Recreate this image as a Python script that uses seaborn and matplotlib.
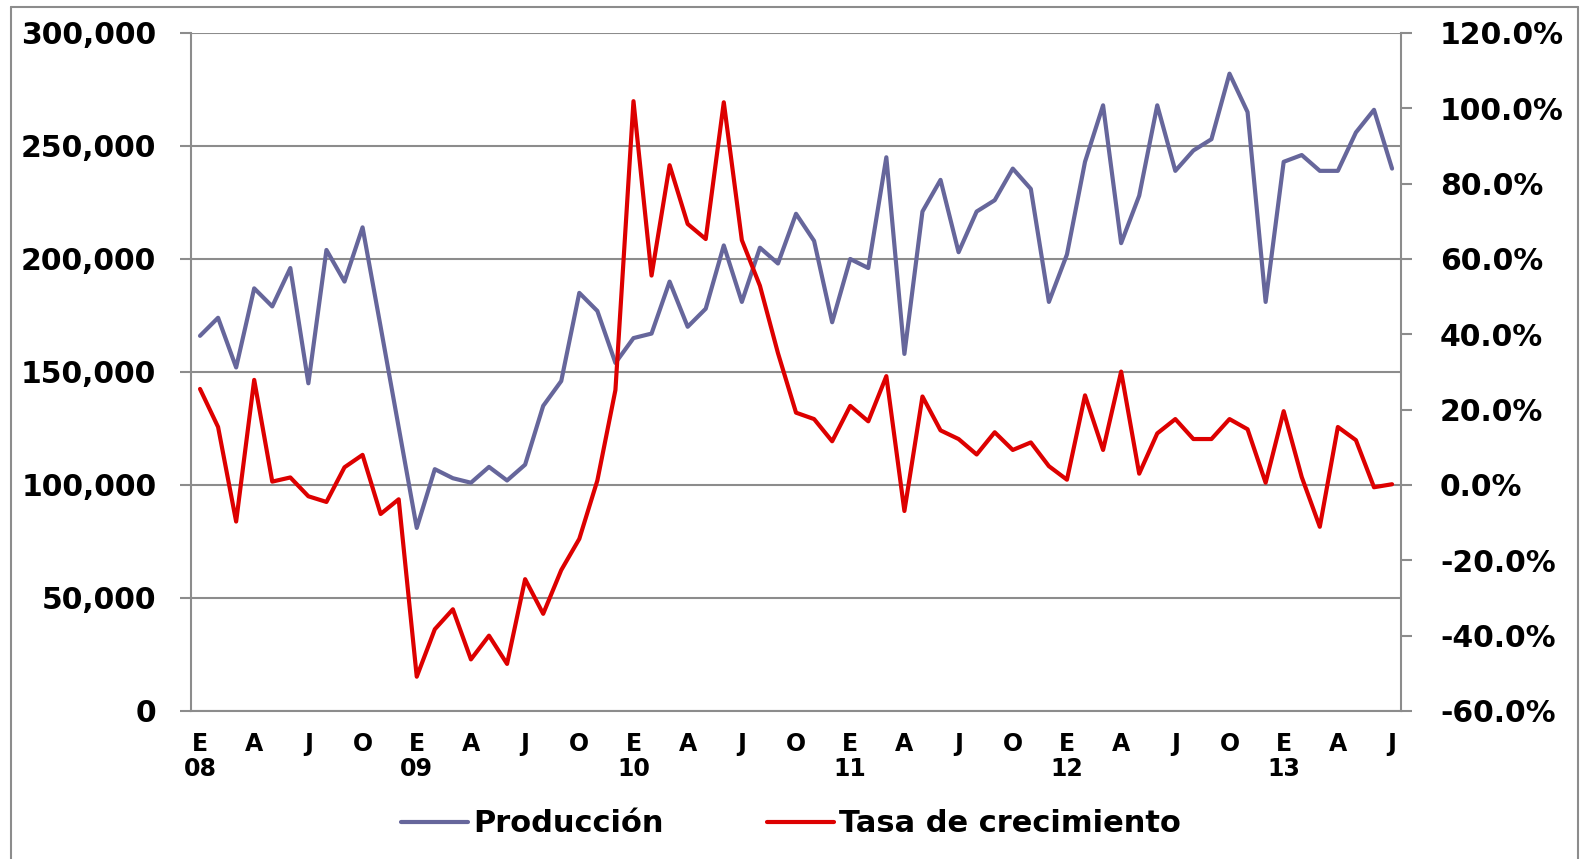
import numpy as np
import pandas as pd
import matplotlib
matplotlib.use("Agg")
import matplotlib.pyplot as plt
import seaborn as sns
from matplotlib.lines import Line2D
from matplotlib.ticker import FuncFormatter, FixedLocator

# ── Data (monthly, Jan 2008 – Jul 2013) ──
produccion = [166000, 174000, 152000, 187000, 179000, 196000, 145000, 204000, 190000, 214000,
              170000, 125500, 81000, 107000, 103000, 101000, 108000, 102000, 109000, 135000,
              146000, 185000, 177000, 154000, 165000, 167000, 190000, 170000, 178000, 206000,
              181000, 205000, 198000, 220000, 208000, 172000, 200000, 196000, 245000, 158000,
              221000, 235000, 203000, 221000, 226000, 240000, 231000, 181000, 202000, 243000,
              268000, 207000, 228000, 268000, 239000, 248000, 253000, 282000, 265000, 181000,
              243000, 246000, 239000, 239000, 256000, 266000, 240000]
tasa = [25.5, 15.4, -9.7, 27.9, 0.9, 2.0, -3.0, -4.5, 4.7, 8.0,
        -7.7, -3.8, -50.9, -38.3, -33.0, -46.3, -40.0, -47.5, -25.0, -34.2,
        -22.6, -14.3, 1.2, 25.2, 101.9, 55.6, 84.9, 69.3, 65.3, 101.6,
        65.0, 52.9, 35.0, 19.2, 17.5, 11.6, 21.0, 16.9, 28.9, -6.9,
        23.5, 14.5, 12.2, 8.1, 14.0, 9.3, 11.3, 5.0, 1.4, 23.8,
        9.3, 30.1, 3.0, 13.7, 17.5, 12.2, 12.2, 17.5, 14.8, 0.6,
        19.6, 2.1, -11.1, 15.4, 11.9, -0.6, 0.2]
month_letters = ["E", "A", "J", "O"]
years = ["08", "09", "10", "11", "12", "13"]

BLUE = "#66669b"
RED = "#dd0000"
GRAY = "#8c8c8c"

df = pd.DataFrame({"mes": np.arange(len(produccion)),
                   "Producción": produccion,
                   "Tasa de crecimiento": tasa})

sns.set_theme(style="white")
plt.rcParams["font.family"] = ["DejaVu Sans"]
plt.rcParams["font.weight"] = "bold"
plt.rcParams["text.color"] = "black"
plt.rcParams["xtick.labelcolor"] = "black"
plt.rcParams["ytick.labelcolor"] = "black"

fig, ax = plt.subplots(figsize=(15.81, 8.59), dpi=100)
fig.subplots_adjust(left=0.1208, right=0.8862, bottom=0.1723, top=0.9616)
ax2 = ax.twinx()

sns.lineplot(data=df, x="mes", y="Producción", ax=ax, color=BLUE, linewidth=3.0,
             label="Producción", legend=False)
sns.lineplot(data=df, x="mes", y="Tasa de crecimiento", ax=ax2, color=RED, linewidth=3.0,
             label="Tasa de crecimiento", legend=False)

# ── Axes ──
ax.set_xlim(-0.5, len(produccion) - 0.5)
ax.set_ylim(0, 300000)
ax2.set_ylim(-60, 120)
ax.set_yticks(np.arange(0, 300001, 50000))
ax2.set_yticks(np.arange(-60, 121, 20))
ax.yaxis.set_major_formatter(FuncFormatter(lambda v, p: f"{int(v):,}"))
ax2.yaxis.set_major_formatter(FuncFormatter(lambda v, p: f"{v:.1f}%"))
ax.set_xlabel("")
ax.set_ylabel("")
ax2.set_ylabel("")

# month labels every quarter, year under January
pos = np.arange(0, len(produccion), 3)
labels = []
for k, p in enumerate(pos):
    letter = month_letters[k % 4]
    if letter == "E":
        labels.append(f"E\n{years[p // 12]}")
    else:
        labels.append(letter)
ax.xaxis.set_major_locator(FixedLocator(pos))
ax.set_xticklabels(labels, fontsize=17, fontweight="bold", linespacing=1.05, color="black")
ax.xaxis.set_minor_locator(FixedLocator(np.arange(-0.5, len(produccion), 1)))
ax.tick_params(axis="x", which="major", length=0, pad=15)
ax.tick_params(axis="x", which="minor", length=5, width=1.5, color=GRAY, direction="out")
ax.tick_params(axis="y", length=8, width=1.5, color=GRAY, direction="out",
               pad=17, labelsize=21.5, labelcolor="black")
ax2.tick_params(axis="y", length=8, width=1.5, color=GRAY, direction="out",
                pad=20, labelsize=21.5, labelcolor="black")
for lab in ax.get_yticklabels() + ax2.get_yticklabels():
    lab.set_fontweight("bold")

ax.grid(axis="y", color=GRAY, linewidth=1.5)
ax.grid(axis="x", visible=False)
ax2.grid(False)
for a in (ax, ax2):
    a.spines["top"].set_visible(False)
    for side in ("left", "right", "bottom"):
        a.spines[side].set_color(GRAY)
        a.spines[side].set_linewidth(1.5)
ax2.spines["left"].set_visible(False)
ax.spines["right"].set_visible(False)
ax2.spines["bottom"].set_visible(False)

# ── Legend below plot ──
handles = [Line2D([], [], color=BLUE, linewidth=3.0),
           Line2D([], [], color=RED, linewidth=3.0)]
fig.legend(handles, ["Producción", "Tasa de crecimiento"], loc="center",
           bbox_to_anchor=(0.5003, 1 - 824 / 859), ncol=2, frameon=False,
           prop={"size": 22, "weight": "bold"}, handlelength=2.2,
           handletextpad=0.15, columnspacing=3.4, labelcolor="black")

# ── Outer frame (left, top, right) ──
x0, x1, y1 = 11 / 1581, 1578 / 1581, 1 - 7 / 859
for xs, ys in (([x0, x0], [0, y1]), ([x0, x1], [y1, y1]), ([x1, x1], [0, y1])):
    fig.add_artist(Line2D(xs, ys, transform=fig.transFigure, color=GRAY, linewidth=1.5))

plt.savefig("out.png", dpi=100)
